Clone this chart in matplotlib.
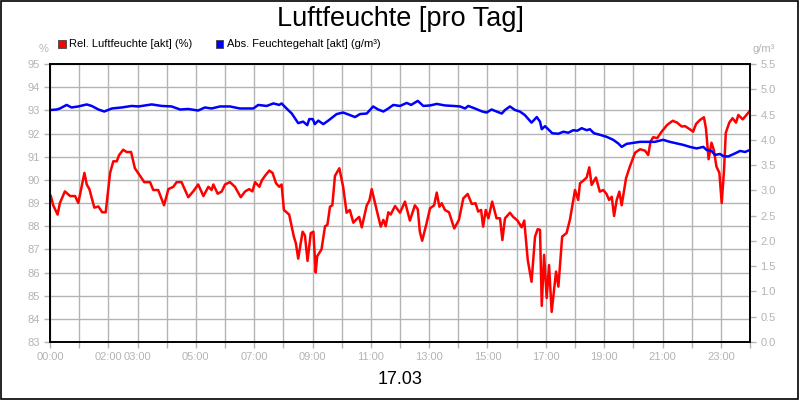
import matplotlib
matplotlib.use('Agg')
import matplotlib.pyplot as plt
from matplotlib.patches import Rectangle

plt.rcParams['font.family'] = ['Liberation Sans', 'DejaVu Sans']

# relative humidity (%), time in hours
rh_t = [0.03, 0.11, 0.26, 0.34, 0.51, 0.69, 0.86, 0.97, 1.06, 1.18, 1.26, 1.35, 1.52, 1.66,
        1.79, 1.91, 2.06, 2.17, 2.29, 2.37, 2.51, 2.63, 2.78, 2.91, 3.09, 3.23, 3.43, 3.54,
        3.71, 3.91, 4.06, 4.23, 4.34, 4.51, 4.74, 4.91, 5.08, 5.26, 5.43, 5.54, 5.60, 5.75,
        5.89, 6.00, 6.17, 6.34, 6.54, 6.69, 6.83, 6.94, 7.03, 7.18, 7.26, 7.37, 7.52, 7.63,
        7.75, 7.86, 7.94, 8.02, 8.20, 8.36, 8.43, 8.51, 8.66, 8.74, 8.83, 8.94, 9.03, 9.11,
        9.16, 9.31, 9.43, 9.51, 9.60, 9.68, 9.77, 9.92, 10.05, 10.17, 10.28, 10.40, 10.51,
        10.60, 10.69, 10.86, 10.95, 11.03, 11.20, 11.34, 11.43, 11.51, 11.60, 11.68, 11.83,
        12.00, 12.17, 12.34, 12.51, 12.61, 12.68, 12.76, 12.91, 13.03, 13.17, 13.26, 13.35,
        13.43, 13.54, 13.68, 13.86, 14.02, 14.17, 14.32, 14.46, 14.59, 14.68, 14.78, 14.85,
        14.94, 15.03, 15.16, 15.31, 15.43, 15.51, 15.60, 15.77, 15.88, 16.03, 16.17, 16.26,
        16.38, 16.51, 16.63, 16.72, 16.80, 16.86, 16.94, 17.03, 17.11, 17.20, 17.35, 17.43,
        17.56, 17.71, 17.83, 18.00, 18.11, 18.17, 18.28, 18.40, 18.49, 18.57, 18.72, 18.85,
        18.97, 19.08, 19.17, 19.26, 19.34, 19.43, 19.52, 19.60, 19.75, 19.88, 20.06, 20.23,
        20.40, 20.51, 20.59, 20.68, 20.82, 20.97, 21.16, 21.35, 21.50, 21.66, 21.77, 21.94,
        22.05, 22.15, 22.28, 22.42, 22.49, 22.58, 22.68, 22.76, 22.85, 22.95, 23.03, 23.11,
        23.17, 23.29, 23.40, 23.52, 23.60, 23.75, 23.88, 24.00]
rh_v = [89.3, 88.9, 88.5, 89.0, 89.5, 89.3, 89.3, 89.0, 89.56, 90.3, 89.8, 89.6, 88.8, 88.85,
        88.6, 88.6, 90.3, 90.8, 90.8, 91.07, 91.3, 91.2, 91.2, 90.5, 90.17, 89.9, 89.9, 89.56,
        89.56, 88.9, 89.6, 89.7, 89.9, 89.9, 89.25, 89.5, 89.8, 89.3, 89.7, 89.56, 89.8, 89.4,
        89.5, 89.8, 89.9, 89.7, 89.25, 89.5, 89.6, 89.5, 89.9, 89.7, 89.97, 90.17, 90.4, 90.3,
        89.85, 89.7, 89.8, 88.7, 88.5, 87.55, 87.26, 86.6, 87.76, 87.6, 86.5, 87.7, 87.76, 86.0,
        86.7, 87.0, 88.0, 88.05, 88.84, 88.9, 90.17, 90.5, 89.7, 88.58, 88.7, 88.15, 88.3,
        88.4, 87.95, 88.9, 89.1, 89.6, 88.7, 87.98, 88.27, 88.0, 88.6, 88.5, 88.87,
        88.58, 89.06, 88.24, 88.9, 88.73, 87.76, 87.37, 88.12, 88.77, 88.9, 89.45, 88.84,
        88.99, 88.7, 88.6, 87.9, 88.27, 89.2, 89.39, 88.96, 88.99, 88.63, 88.7, 87.98,
        88.7, 88.34, 89.06, 88.34, 88.34, 87.4, 88.34, 88.58, 88.4, 88.24, 87.95, 88.24,
        86.54, 85.6, 87.55, 87.87, 87.84, 84.56, 86.76, 84.9, 86.32, 84.3, 86.04, 85.39,
        87.55, 87.7, 88.3, 89.56, 89.13, 89.85, 89.96, 90.1, 90.54, 89.78, 90.1, 89.49,
        89.56, 89.39, 89.13, 89.27, 88.44, 89.13, 89.49, 88.9, 90.07, 90.57, 91.17, 91.32,
        91.26, 91.07, 91.65, 91.84, 91.8, 92.08, 92.37, 92.55, 92.47, 92.3, 92.32, 92.18,
        92.08, 92.41, 92.58, 92.7, 92.22, 90.89, 91.6, 91.29, 90.57, 90.3, 89.0, 90.43,
        92.03, 92.47, 92.66, 92.47, 92.8, 92.61, 92.8, 92.98]

# absolute humidity (g/m3)
ah_t = [0.03, 0.23, 0.34, 0.57, 0.74, 0.97, 1.26, 1.43, 1.66, 1.86, 2.12, 2.46, 2.80, 3.03,
        3.26, 3.49, 3.83, 4.17, 4.46, 4.74, 5.08, 5.31, 5.54, 5.83, 6.17, 6.51, 6.97, 7.14,
        7.43, 7.66, 7.86, 7.94, 8.11, 8.29, 8.51, 8.68, 8.82, 8.89, 9.01, 9.08, 9.20, 9.37,
        9.54, 9.83, 10.05, 10.28, 10.46, 10.63, 10.86, 11.08, 11.25, 11.43, 11.60, 11.77,
        12.00, 12.23, 12.38, 12.61, 12.80, 13.03, 13.26, 13.54, 13.83, 14.06, 14.23, 14.34,
        14.57, 14.82, 14.97, 15.14, 15.31, 15.49, 15.60, 15.77, 15.94, 16.11, 16.28, 16.51,
        16.69, 16.80, 16.86, 16.97, 17.08, 17.22, 17.43, 17.60, 17.77, 17.94, 18.08, 18.23,
        18.40, 18.51, 18.65, 18.85, 19.08, 19.31, 19.48, 19.60, 19.77, 20.00, 20.23, 20.51,
        20.74, 21.02, 21.25, 21.48, 21.71, 21.94, 22.17, 22.40, 22.51, 22.68, 22.80, 22.97,
        23.08, 23.25, 23.48, 23.66, 23.83, 24.00]
ah_v = [4.59, 4.60, 4.62, 4.69, 4.64, 4.66, 4.70, 4.67, 4.60, 4.56, 4.62, 4.64, 4.67, 4.66,
        4.68, 4.70, 4.67, 4.66, 4.60, 4.61, 4.58, 4.64, 4.62, 4.66, 4.66, 4.62, 4.62, 4.69,
        4.67, 4.72, 4.69, 4.72, 4.62, 4.52, 4.33, 4.36, 4.29, 4.41, 4.41, 4.31, 4.38, 4.31,
        4.38, 4.51, 4.54, 4.49, 4.45, 4.51, 4.52, 4.66, 4.60, 4.56, 4.62, 4.69,
        4.67, 4.73, 4.69, 4.77, 4.67, 4.68, 4.71, 4.68, 4.67, 4.66, 4.62, 4.67,
        4.62, 4.56, 4.54, 4.60, 4.56, 4.52, 4.59, 4.66, 4.59, 4.56, 4.49, 4.34,
        4.45, 4.36, 4.21, 4.27, 4.21, 4.13, 4.12, 4.16, 4.14, 4.19, 4.18, 4.23,
        4.19, 4.21, 4.13, 4.10, 4.06, 4.00, 3.93, 3.86, 3.92, 3.94, 3.96, 3.96,
        3.96, 4.00, 3.96, 3.93, 3.90, 3.86, 3.83, 3.86, 3.80, 3.78, 3.70, 3.72,
        3.68, 3.67, 3.73, 3.78, 3.76, 3.80]

hour_ticks = list(range(25))
label_hours = [0, 2, 3, 5, 7, 9, 11, 13, 15, 17, 19, 21, 23]
rh_ticks = list(range(83, 96))
ah_ticks = [i * 0.5 for i in range(12)]

gray = '#b4b4b4'
fig = plt.figure(figsize=(8, 4), dpi=100)
ax = fig.add_axes([0.0625, 0.145, 0.875, 0.695])
ax2 = ax.twinx()

ax.plot(rh_t, rh_v, color='#ff0000', lw=1.8)
ax2.plot(ah_t, ah_v, color='#0000ff', lw=1.8)

ax.set_xlim(0, 24)
ax.set_ylim(83, 95)
ax2.set_ylim(0, 5.5)
ax.set_xticks(hour_ticks)
ax.set_xticklabels(['%02d:00' % h if h in label_hours else '' for h in hour_ticks])
ax.set_yticks(rh_ticks)
ax2.set_yticks(ah_ticks)
ax2.set_yticklabels(['%.1f' % v for v in ah_ticks])
ax.grid(True, color=gray, lw=1)
ax.set_axisbelow(True)

for a in (ax, ax2):
    a.tick_params(colors=gray, labelcolor=gray, labelsize=8, length=4, width=1, direction='out')
    for s in a.spines.values():
        s.set_color('black')
        s.set_linewidth(1.2)

fig.text(0.5, 0.953, 'Luftfeuchte [pro Tag]', ha='center', va='center', fontsize=19.5)
fig.text(0.5, 0.05, '17.03', ha='center', va='center', fontsize=13)
fig.text(0.054, 0.878, '%', ha='center', va='center', fontsize=8, color=gray)
fig.text(0.954, 0.878, 'g/m³', ha='center', va='center', fontsize=8, color=gray)

# legend squares
fig.patches.append(Rectangle((0.073, 0.881), 0.009, 0.018, transform=fig.transFigure,
                             facecolor='#ff0000', edgecolor='#444444', lw=0.6))
fig.text(0.086, 0.89, 'Rel. Luftfeuchte [akt] (%)', va='center', fontsize=8)
fig.patches.append(Rectangle((0.270, 0.881), 0.009, 0.018, transform=fig.transFigure,
                             facecolor='#0000ff', edgecolor='#444444', lw=0.6))
fig.text(0.284, 0.89, 'Abs. Feuchtegehalt [akt] (g/m³)', va='center', fontsize=8)

# outer frame
fig.patches.append(Rectangle((0.001, 0.002), 0.997, 0.996, transform=fig.transFigure,
                             fill=False, edgecolor='black', lw=1.2))

fig.savefig('out.png', dpi=100)
